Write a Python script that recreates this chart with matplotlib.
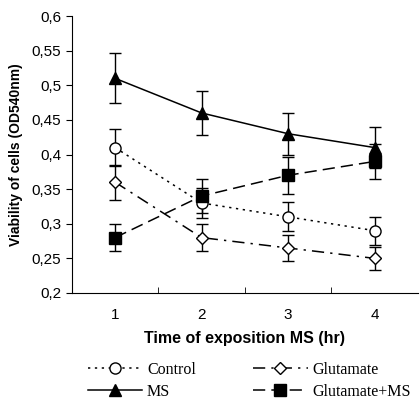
import matplotlib.pyplot as plt
from matplotlib.lines import Line2D

times = [1, 2, 3, 4]
tick_labels = ['1', '2', '3', '4']

control = [0.41, 0.33, 0.31, 0.29]
control_err = [0.027, 0.022, 0.021, 0.02]
glutamate = [0.36, 0.28, 0.265, 0.25]
glutamate_err = [0.025, 0.02, 0.019, 0.017]
ms = [0.51, 0.46, 0.43, 0.41]
ms_err = [0.036, 0.032, 0.03, 0.03]
glut_ms = [0.28, 0.34, 0.37, 0.39]
glut_ms_err = [0.02, 0.024, 0.027, 0.025]

plt.rcParams['font.family'] = 'Liberation Sans'

fig = plt.figure(figsize=(4.2, 4.0), dpi=100)
ax = fig.add_axes([0.171, 0.2675, 0.824, 0.6925])

styles = {
    'Control': dict(linestyle=(0, (1.5, 3)), marker='o', markerfacecolor='white', markersize=8),
    'Glutamate': dict(linestyle=(0, (8, 4, 1.5, 4)), marker='D', markerfacecolor='white', markersize=6.5),
    'MS': dict(linestyle='-', marker='^', markerfacecolor='black', markersize=8),
    'Glutamate+MS': dict(linestyle=(0, (8, 4)), marker='s', markerfacecolor='black', markersize=8),
}
series = [('Control', control, control_err), ('Glutamate', glutamate, glutamate_err),
          ('MS', ms, ms_err), ('Glutamate+MS', glut_ms, glut_ms_err)]

for name, vals, errs in series:
    ax.errorbar(times, vals, yerr=errs, color='black', capsize=4, elinewidth=1, capthick=1,
                linewidth=1.1, **styles[name])

ax.set_xlim(0.5, 4.5)
ax.set_ylim(0.2, 0.6)
ax.set_xticks(times)
ax.set_xticklabels(tick_labels)
ax.set_xticks([1.5, 2.5, 3.5], minor=True)
ax.tick_params(axis='x', which='major', length=0, pad=11)
ax.tick_params(axis='x', which='minor', length=4, direction='in')
ax.set_yticks([0.2, 0.25, 0.3, 0.35, 0.4, 0.45, 0.5, 0.55, 0.6])
ax.set_yticklabels(['0,2', '0,25', '0,3', '0,35', '0,4', '0,45', '0,5', '0,55', '0,6'])
ax.tick_params(axis='y', length=4, direction='out')
ax.tick_params(labelsize=11)
ax.spines['top'].set_visible(False)
ax.spines['right'].set_visible(False)

ax.set_xlabel('Time of exposition MS (hr)', fontsize=11.5, fontweight='bold', labelpad=6)
ax.set_ylabel('Viability of cells (OD540nm)', fontsize=10, fontweight='bold', labelpad=6)

# legend without error bars; legend fills column by column
order = ['Control', 'MS', 'Glutamate', 'Glutamate+MS']
handles = [Line2D([], [], color='black', linewidth=1.1, **styles[n]) for n in order]
fig.legend(handles, order, ncol=2, loc='upper left', bbox_to_anchor=(0.19, 0.115),
           frameon=False, borderpad=0, prop={'family': 'Liberation Serif', 'size': 11.5},
           handlelength=3.4, handletextpad=0.3, columnspacing=3.6, labelspacing=0.35)

plt.savefig('out.png', dpi=100)
